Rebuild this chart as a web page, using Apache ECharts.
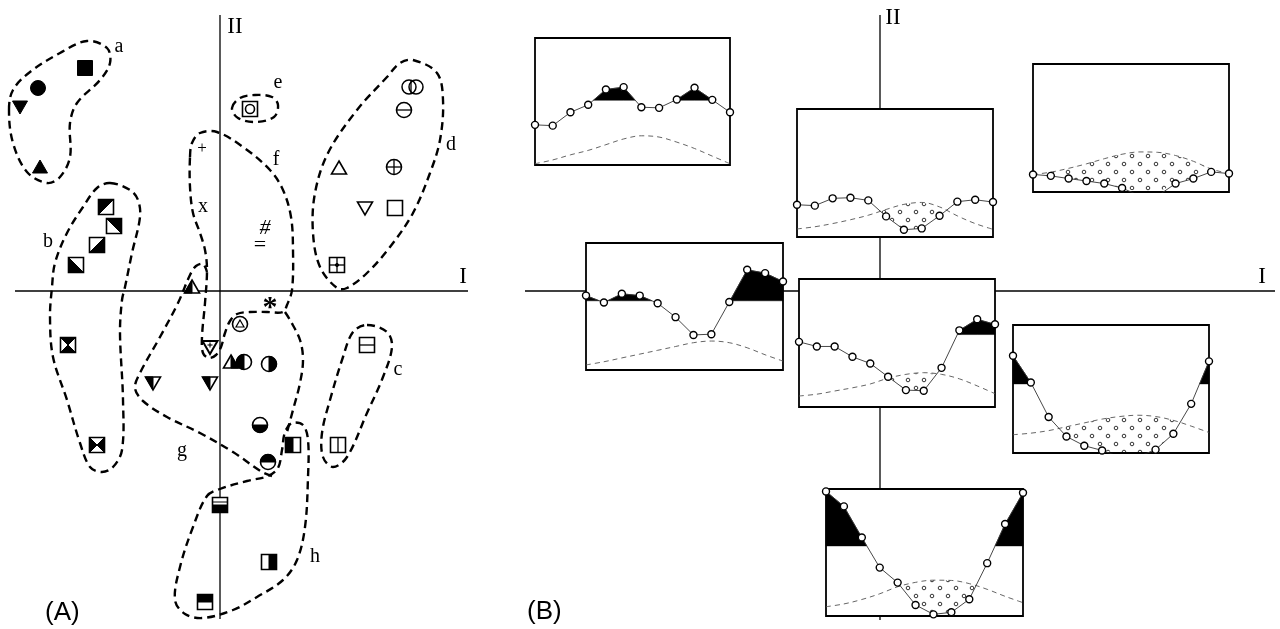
<!DOCTYPE html>
<html><head><meta charset="utf-8">
<script src="https://cdn.jsdelivr.net/npm/echarts@6/dist/echarts.min.js"></script>
<style>html,body{margin:0;padding:0;background:#fff}#c{width:1280px;height:629px}</style>
</head><body><div id="c"></div>
<script>
// ---------- Panel A : ordination scores (axis I, axis II) ----------
const symX = [-13.5,-18.2,-20,-18, -11.4,-10.6,-12.3,-14.4,-15.2,-12.3, 14.7,11.8, 19.2,18.4,11.9,17.4,14.5,17.5,11.7, 3, -1.8,-1.7,4.5,4,5, -2.8,-1,-6.7,-1,2,1.1,2.4,4.9,4,4.8, 7.3,0,4.9,-1.5];
const symY = [22.3,20.3,18.4,12.4, 8.4,6.5,4.6,2.6,-5.4,-15.4, -5.4,-15.4, 20.4,18.1,12.3,12.4,8.3,8.3,2.6, 18.2, 14.2,8.2,6.3,4.6,-1.3, 0.4,-5.6,-9.2,-9.2,-3.3,-7.1,-7.1,-7.3,-13.4,-17.1, -15.4,-21.4,-27.1,-31.1];
const symKind = ['sqFill','circFill','triDownFill','triUpFill',
  'sqDiagTL','sqDiagTR','sqDiagBR','sqDiagBL','sqHourglass','sqBowtie',
  'sqHLine','sqVLine',
  'circDouble','circHLine','triUpOpen','circPlus','triDownOpen','sqOpen','sqPlus',
  'sqCircle',
  'plus','ex','hash','equals','star',
  'triUpHalfL','triDownPlus','triDownHalfL','triDownHalfL','circTri','triUpHalfR','circHalfL','circHalfR','circHalfB','circHalfT',
  'sqHalfL','sqHalfB','sqHalfR','sqHalfT'];

// cluster outlines (data units of panel A)
const outlineA = [[-21.1,18.1],[-20.7,20.1],[-19,21.9],[-16,23.8],[-13.3,25],[-11.3,24.3],[-11,22.8],[-12,21.1],[-14.3,18.8],[-15,16.8],[-15,13.4],[-16,11.4],[-17.3,10.8],[-19.3,11.9],[-20.7,14.8]];
const outlineB = [[-11,10.8],[-9,10.1],[-8.2,9.1],[-8,7.4],[-8.8,3.8],[-9.5,0.4],[-9.8,-0.9],[-10,-4.2],[-9.7,-10.9],[-9.8,-15.9],[-10.7,-17.6],[-11.8,-18.1],[-13,-17.6],[-14,-15.2],[-15.3,-10.9],[-16.7,-6.6],[-17,-2.6],[-16.8,0.4],[-16.5,2.8],[-15.3,5.8],[-13.7,8.4],[-12.3,10.3]];
const outlineC = [[14.7,-3.4],[16.7,-4.1],[17.2,-5.6],[16.3,-8.6],[14.7,-12.2],[12.7,-16.6],[11.3,-17.6],[10.3,-16.6],[10.2,-14.2],[11,-10.9],[12.3,-6.6],[13.3,-4.1]];
const outlineD = [[19.3,23.1],[21.7,21.8],[22.3,19.1],[22,15.1],[21,11.8],[19.3,7.8],[17,4.4],[14.7,1.8],[12.7,0.3],[11.7,0.3],[10,2.4],[9.3,5.8],[9.5,9.8],[10.8,13.8],[13.7,18.1],[16.7,21.4],[18,22.8]];
const outlineE = [[1.2,18.3],[2,19.3],[3.5,19.6],[5.2,19.4],[5.8,18.6],[5.4,17.4],[3.5,16.9],[1.8,17.3]];
const outlineF = [[-3,13.4],[-2.8,14.8],[-2,15.8],[-0.3,15.9],[2.3,14.4],[5,12.1],[6.3,10.1],[7.1,7.4],[7.3,4.1],[7.2,0.1],[6.7,-1.4],[6.3,-2.1],[4.7,-2.1],[3,-2.1],[1.7,-2.3],[1,-3],[0.5,-4.2],[0.1,-5.6],[-0.4,-6.4],[-1.1,-6.7],[-1.7,-6.2],[-1.8,-4.6],[-1.5,-1.2],[-1.3,2.1],[-1.5,4.1],[-2,5.8],[-2.7,7.8],[-3,10.4]];
const outlineG1 = [[6.5,-2.1],[7,-2.9],[8,-4.9],[8.3,-6.9],[8,-9.2],[7.3,-11.9],[6.7,-14.1]];
const outlineG2 = [[5.2,-18.5],[4.2,-18.1],[1.3,-16.1],[-2,-14.2],[-5.3,-12.6],[-7.7,-11],[-8.5,-9.7],[-8,-8.2],[-6,-4.6],[-4.2,-1.2],[-3,1.6],[-2.4,2.5],[-1.7,2.7],[-1.3,1.9]];
const outlineH = [[-1.3,-20.5],[0,-19.8],[2.7,-19],[4.8,-18.5],[5.8,-17.7],[6.2,-15.9],[6.5,-14.1],[7.2,-13.2],[8.3,-13.4],[8.8,-14.9],[8.8,-18.6],[8.5,-23.6],[7.7,-26.9],[6.3,-28.9],[3.7,-30.6],[1.3,-31.9],[-1.7,-32.7],[-3.5,-32.3],[-4.5,-30.9],[-4,-27.6],[-2.7,-23.6]];
const outlines = [outlineA, outlineB, outlineC, outlineD, outlineE, outlineF, outlineG1, outlineG2, outlineH];
const outlineClosed = [true, true, true, true, true, true, false, false, true];

// group letters and axis names, panel A
const labelTextA = ['a','b','c','d','e','f','g','h','II','I'];
const labelXA = [-10.1,-17.2,17.8,23.1,5.8,5.6,-3.8,9.5,1.5,24.3];
const labelYA = [24.4,4.9,-7.9,14.6,20.8,13.1,-16,-26.6,26.4,1.4];
const axisHA = [[-20.5,0],[24.8,0]];
const axisVA = [[0,27.6],[0,-32.8]];

// ---------- Panel B : axes and profile insets ----------
const labelTextB = ['II','I'];
const labelXB = [1.3,38.2];
const labelYB = [27.3,1.4];
const axisHB = [[-35.5,0],[39.5,0]];
const axisVB = [[0,27.6],[0,-32.9]];

const positions = [0,1,2,3,4,5,6,7,8,9,10,11];
const profile1 = [31.6,31,41.5,47.4,59.5,61.3,45.5,45,51.6,60.8,51.3,41.5];
const bell1    = [1,4,8,11.5,16,20.5,23,22,18,13,7,1];
const profile2 = [25.2,24.5,30.2,30.7,28.6,16.1,5.7,6.7,16.6,27.6,29.1,27.3];
const bell2    = [6.3,8,10.5,13.5,17,21.5,25.5,27,23.5,16.5,10.5,6];
const profile3 = [13.7,12.6,10.5,8.6,6.6,3.1,-3,-3,6.6,10.5,15.7,14.4];
const bell3    = [13.7,15.5,18.5,22,26,29.5,31.3,31,28.5,24,18,14.4];
const profile4 = [58.6,53.1,60,58.6,52.6,41.6,27.6,28.2,53.5,78.9,76.3,69.7];
const bell4    = [4,6.5,9.5,12.5,15.5,18.5,21.5,22.8,21.5,17.5,12,7];
const profile5 = [50.9,47.3,47.3,39.2,34,23.6,13.2,12.7,30.6,59.9,68.5,64.6];
const bell5    = [8.6,10,12.5,15,18,22.5,25.5,26.8,25.5,22,16.5,10.4];
const profile6 = [76,55.1,28.1,12.9,5.7,2,-3,-3,2.6,15,38.4,71.6];
const bell6    = [14.3,15.5,17.5,20.5,23.5,26.5,28.5,29.5,28.5,25.5,21,16];
const profile7 = [98.1,86.3,61.8,38.1,26.3,8.7,1.3,2.9,13.2,41.6,72.4,97];
const bell7    = [7.3,9.5,13,17.5,23,26.5,28.2,28,25.5,21,15.5,10.5];
const thresholds = [51,55,55,54.5,56.6,54,55.2];

const profiles = [profile1,profile2,profile3,profile4,profile5,profile6,profile7];
const bells = [bell1,bell2,bell3,bell4,bell5,bell6,bell7];
const insetBoxes = [
  {left:535, top:38, width:195, height:127},
  {left:797, top:109, width:196, height:128},
  {left:1033, top:64, width:196, height:128},
  {left:586, top:243, width:197, height:127},
  {left:799, top:279, width:196, height:128},
  {left:1013, top:325, width:196, height:128},
  {left:826, top:489, width:197, height:127}
];

// ---------- helpers ----------
const pc = document.createElement('canvas'); pc.width = 16; pc.height = 16;
const pg = pc.getContext('2d'); pg.strokeStyle = '#333'; pg.lineWidth = 1;
[[4,4],[12,12]].forEach(([x,y]) => { pg.beginPath(); pg.arc(x,y,1.8,0,Math.PI*2); pg.stroke(); });
const dotPattern = {image: pc, repeat: 'repeat'};

// polygons of the regions where upper[] > lower[] (piecewise linear on index x)
function runs(f, g) {
  const polys = []; let up = null, lo = null;
  for (let i = 0; i < f.length; i++) {
    const d = f[i] - g[i];
    if (i > 0) {
      const dp = f[i-1] - g[i-1];
      if ((dp > 0) !== (d > 0)) {
        const t = dp / (dp - d), xc = i - 1 + t, yc = f[i-1] + (f[i] - f[i-1]) * t;
        if (dp > 0) { up.push([xc, yc]); polys.push(up.concat(lo.reverse())); up = null; lo = null; }
        else { up = [[xc, yc]]; lo = []; }
      }
    }
    if (d > 0) { if (!up) { up = []; lo = []; } up.push([i, f[i]]); lo.push([i, g[i]]); }
  }
  if (up) polys.push(up.concat(lo.reverse()));
  return polys;
}

function symbolEls(kind, cx, cy) {
  const h = 7.5, l = cx - h, r = cx + h, t = cy - h, b = cy + h, PI = Math.PI;
  const blk = {fill:'#000', stroke:'#000', lineWidth:1};
  const out = {fill:'#fff', stroke:'#000', lineWidth:1.6};
  const rect = (st) => ({type:'rect', shape:{x:l, y:t, width:2*h, height:2*h}, style: st || out});
  const circ = (x, rr, st) => ({type:'circle', shape:{cx:x, cy:cy, r:rr}, style: st || out});
  const poly = (pts, st) => ({type:'polygon', shape:{points:pts}, style: st || blk});
  const seg = (x1,y1,x2,y2,w) => ({type:'line', shape:{x1,y1,x2,y2}, style:{stroke:'#000', lineWidth:w||1.3}});
  const sector = (a0,a1) => ({type:'sector', shape:{cx, cy, r0:0, r:h, startAngle:a0, endAngle:a1, clockwise:true}, style:blk});
  const txt = (s, size, dy, extra) => ({type:'text', x:cx, y:cy + (dy||0), style:Object.assign({text:s, fill:'#000', font: size + 'px "Liberation Serif", serif', align:'center', verticalAlign:'middle'}, extra||{})});
  const triUp = [[cx, cy-7], [cx+7.5, cy+6], [cx-7.5, cy+6]];
  const triDn = [[cx-7.5, cy-6], [cx+7.5, cy-6], [cx, cy+7]];
  switch (kind) {
    case 'sqFill': return [rect(blk)];
    case 'sqOpen': return [rect()];
    case 'sqDiagTL': return [rect(), poly([[l,t],[r,t],[l,b]])];
    case 'sqDiagTR': return [rect(), poly([[l,t],[r,t],[r,b]])];
    case 'sqDiagBR': return [rect(), poly([[r,t],[r,b],[l,b]])];
    case 'sqDiagBL': return [rect(), poly([[l,t],[r,b],[l,b]])];
    case 'sqHourglass': return [rect(), poly([[l,t],[r,t],[cx,cy]]), poly([[l,b],[r,b],[cx,cy]])];
    case 'sqBowtie': return [rect(), poly([[l,t],[l,b],[cx,cy]]), poly([[r,t],[r,b],[cx,cy]])];
    case 'sqHLine': return [rect(), seg(l,cy,r,cy)];
    case 'sqVLine': return [rect(), seg(cx,t,cx,b)];
    case 'sqPlus': return [rect(), seg(l,cy,r,cy), seg(cx,t,cx,b), circ(cx,1.6,blk)];
    case 'sqCircle': return [rect(), circ(cx,4.5)];
    case 'sqHalfL': return [rect(), poly([[l,t],[cx,t],[cx,b],[l,b]])];
    case 'sqHalfR': return [rect(), poly([[cx,t],[r,t],[r,b],[cx,b]])];
    case 'sqHalfT': return [rect(), poly([[l,t],[r,t],[r,cy],[l,cy]])];
    case 'sqHalfB': return [rect(), poly([[l,cy],[r,cy],[r,b],[l,b]]), seg(l,cy-3,r,cy-3,1)];
    case 'circFill': return [circ(cx,h,blk)];
    case 'circHLine': return [circ(cx,h), seg(l,cy,r,cy)];
    case 'circPlus': return [circ(cx,h), seg(l,cy,r,cy), seg(cx,t,cx,b)];
    case 'circDouble': return [circ(cx-3,7,{fill:'none',stroke:'#000',lineWidth:1.5}), circ(cx+4,7,{fill:'none',stroke:'#000',lineWidth:1.5}), seg(cx-1,cy-7,cx-1,cy+7)];
    case 'circHalfL': return [circ(cx,h), sector(PI/2, 3*PI/2)];
    case 'circHalfR': return [circ(cx,h), sector(-PI/2, PI/2)];
    case 'circHalfT': return [circ(cx,h), sector(PI, 2*PI)];
    case 'circHalfB': return [circ(cx,h), sector(0, PI)];
    case 'circTri': return [circ(cx,h), poly([[cx,cy-4],[cx+4,cy+3],[cx-4,cy+3]], {fill:'#fff',stroke:'#000',lineWidth:1.2})];
    case 'triUpFill': return [poly(triUp)];
    case 'triDownFill': return [poly(triDn)];
    case 'triUpOpen': return [poly(triUp, out)];
    case 'triDownOpen': return [poly(triDn, out)];
    case 'triUpHalfL': return [poly(triUp, out), poly([[cx,cy-7],[cx,cy+6],[cx-7.5,cy+6]])];
    case 'triUpHalfR': return [poly(triUp, out), poly([[cx,cy-7],[cx+7.5,cy+6],[cx,cy+6]])];
    case 'triDownHalfL': return [poly(triDn, out), poly([[cx-7.5,cy-6],[cx,cy-6],[cx,cy+7]])];
    case 'triDownPlus': return [poly(triDn, {fill:'#fff',stroke:'#000',lineWidth:2}), seg(cx-2.5,cy-2,cx+2.5,cy-2,1.1), seg(cx,cy-4.5,cx,cy+0.5,1.1)];
    case 'plus': return [txt('+', 17, 0)];
    case 'ex': return [txt('x', 20, -2)];
    case 'hash': return [txt('#', 22, 0, {font:'italic 22px "Liberation Serif", serif'})];
    case 'equals': return [txt('=', 22, 0)];
    case 'star': return [txt('*', 30, 4, {font:'bold 30px "Liberation Serif", serif'})];
  }
  return [];
}

const series = [];
const lineBase = {type:'line', symbol:'none', silent:true, animation:false};

// Panel A axes
series.push(Object.assign({}, lineBase, {xAxisIndex:0, yAxisIndex:0, data:axisHA, z:1, lineStyle:{color:'#000', width:1.3}}));
series.push(Object.assign({}, lineBase, {xAxisIndex:0, yAxisIndex:0, data:axisVA, z:1, lineStyle:{color:'#000', width:1.3}}));
// outlines
series.push({type:'custom', coordinateSystem:'cartesian2d', xAxisIndex:0, yAxisIndex:0, z:2, silent:true, animation:false,
  data: outlines.map(o => o[0]),
  renderItem: (params, api) => {
    const i = params.dataIndex;
    const pts = outlines[i].map(q => api.coord(q));
    return {type: outlineClosed[i] ? 'polygon' : 'polyline', shape:{points:pts, smooth:0.35},
      style:{fill:'none', stroke:'#000', lineWidth:2.4, lineDash:[8,5]}};
  }});
// symbols
series.push({type:'custom', coordinateSystem:'cartesian2d', xAxisIndex:0, yAxisIndex:0, z:3, silent:true, animation:false,
  data: symX.map((x,i) => [x, symY[i]]),
  renderItem: (params, api) => {
    const p = api.coord([api.value(0), api.value(1)]);
    return {type:'group', children: symbolEls(symKind[params.dataIndex], p[0], p[1])};
  }});
// letters
function labelSeries(xi, tx, lx, ly) {
  return {type:'custom', coordinateSystem:'cartesian2d', xAxisIndex:xi, yAxisIndex:xi, z:6, silent:true, animation:false,
    data: lx.map((x,i) => [x, ly[i]]),
    renderItem: (params, api) => {
      const p = api.coord([api.value(0), api.value(1)]);
      const s = tx[params.dataIndex];
      const roman = (s === 'I' || s === 'II');
      return {type:'text', x:p[0], y:p[1], style:{text:s, fill:'#000', align:'center', verticalAlign:'middle',
        font: (roman ? '23px' : '20px') + ' "Liberation Serif", "DejaVu Serif", serif'}};
    }};
}
series.push(labelSeries(0, labelTextA, labelXA, labelYA));

// Panel B axes
series.push(Object.assign({}, lineBase, {xAxisIndex:1, yAxisIndex:1, data:axisHB, z:1, lineStyle:{color:'#000', width:1.3}}));
series.push(Object.assign({}, lineBase, {xAxisIndex:1, yAxisIndex:1, data:axisVB, z:1, lineStyle:{color:'#000', width:1.3}}));
series.push(labelSeries(1, labelTextB, labelXB, labelYB));

// insets
profiles.forEach((prof, k) => {
  const ai = k + 2, bell = bells[k], thr = thresholds[k];
  const thrArr = prof.map(() => thr);
  const profClamped = prof.map(v => Math.max(v, 0));
  series.push({type:'custom', coordinateSystem:'cartesian2d', xAxisIndex:ai, yAxisIndex:ai, z:3, silent:true, animation:false,
    data: [[0, 0]],
    renderItem: (params, api) => {
      const c = (q) => api.coord(q);
      const a = c([0,0]), b = c([11,100]);
      const box = {x:a[0], y:b[1], width:b[0]-a[0], height:a[1]-b[1]};
      const ch = [{type:'rect', shape:box, style:{fill:'#fff', stroke:'none'}}];
      runs(bell, profClamped).forEach(pl => ch.push({type:'polygon', shape:{points:pl.map(c)}, style:{fill:dotPattern, stroke:'none'}}));
      runs(prof, thrArr).forEach(pl => ch.push({type:'polygon', shape:{points:pl.map(c)}, style:{fill:'#000', stroke:'#000', lineWidth:0.5}}));
      ch.push({type:'rect', shape:box, style:{fill:'none', stroke:'#000', lineWidth:1.8}});
      return {type:'group', children:ch};
    }});
  series.push(Object.assign({}, lineBase, {xAxisIndex:ai, yAxisIndex:ai, z:4, smooth:0.35,
    data: positions.map((x,i) => [x, bell[i]]),
    lineStyle:{color:'#555', width:0.9, type:[5,4]}}));
  series.push({type:'line', xAxisIndex:ai, yAxisIndex:ai, z:5, silent:true, animation:false,
    data: positions.map((x,i) => [x, prof[i]]),
    symbol:'circle', symbolSize:7, showAllSymbol:true,
    lineStyle:{color:'#333', width:0.9},
    itemStyle:{color:'#fff', borderColor:'#000', borderWidth:1.4}});
});

const grids = [
  {left:0, top:0, width:480, height:629},
  {left:520, top:0, width:760, height:629}
].concat(insetBoxes);
const xAxes = [
  {type:'value', gridIndex:0, min:-22, max:26, show:false},
  {type:'value', gridIndex:1, min:-36, max:40, show:false}
].concat(insetBoxes.map((b,i) => ({type:'value', gridIndex:i+2, min:0, max:11, show:false})));
const yAxes = [
  {type:'value', gridIndex:0, min:-33.8, max:29.1, show:false},
  {type:'value', gridIndex:1, min:-33.8, max:29.1, show:false}
].concat(insetBoxes.map((b,i) => ({type:'value', gridIndex:i+2, min:0, max:100, show:false})));

const chart = echarts.init(document.getElementById('c'));
chart.setOption({
  backgroundColor:'#fff',
  animation:false,
  grid: grids, xAxis: xAxes, yAxis: yAxes,
  graphic: [
    {type:'text', left:45, top:600, style:{text:'(A)', font:'26px "Liberation Sans", Arial, sans-serif', fill:'#000'}},
    {type:'text', left:527, top:599, style:{text:'(B)', font:'26px "Liberation Sans", Arial, sans-serif', fill:'#000'}}
  ],
  series: series
});
</script>
</body></html>
